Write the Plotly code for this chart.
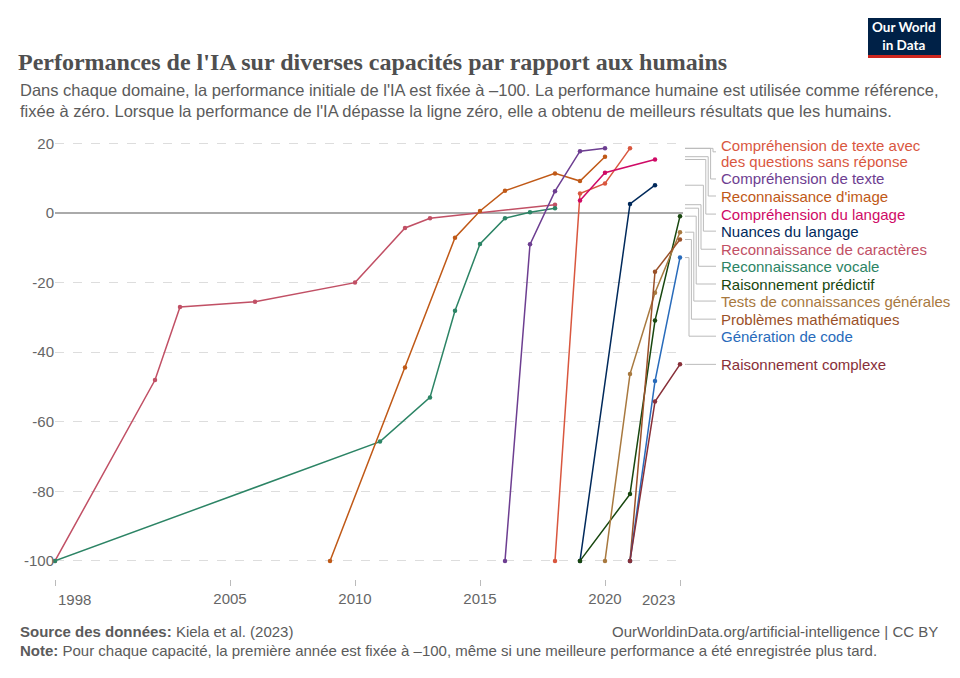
import plotly.graph_objects as go

# data (Kiela et al. 2023)
names = [
    "Compréhension de texte avec",
    "Compréhension de texte",
    "Reconnaissance d'image",
    "Compréhension du langage",
    "Nuances du langage",
    "Reconnaissance de caractères",
    "Reconnaissance vocale",
    "Raisonnement prédictif",
    "Tests de connaissances générales",
    "Problèmes mathématiques",
    "Génération de code",
    "Raisonnement complexe",
]
colors = ["#D9573F", "#6D3E91", "#C05917", "#CF0A66", "#00295B", "#C15065",
          "#2C8465", "#18470F", "#A8793F", "#9A5129", "#286BBB", "#883039"]

years_squad2 = [2018, 2019, 2020, 2021]
vals_squad2 = [-100, 5.6, 8.5, 18.6]
years_texte = [2016, 2017, 2018, 2019, 2020]
vals_texte = [-100, -9, 6.3, 17.8, 18.6]
years_image = [2009, 2012, 2014, 2015, 2016, 2018, 2019, 2020]
vals_image = [-100, -44.4, -7.1, 0.6, 6.4, 11.4, 9.2, 16.2]
years_langage = [2019, 2020, 2022]
vals_langage = [3.6, 11.6, 15.4]
years_nuances = [2019, 2021, 2022]
vals_nuances = [-100, 2.6, 8.0]
years_caracteres = [1998, 2002, 2003, 2006, 2010, 2012, 2013, 2018]
vals_caracteres = [-100, -48, -27, -25.5, -20, -4.3, -1.5, 2.4]
years_vocale = [1998, 2011, 2013, 2014, 2015, 2016, 2017, 2018]
vals_vocale = [-100, -65.7, -53, -28.1, -8.9, -1.5, 0.2, 1.4]
years_predictif = [2019, 2021, 2022, 2023]
vals_predictif = [-100, -80.8, -30.9, -0.9]
years_tests = [2020, 2021, 2022, 2023]
vals_tests = [-100, -46.3, -22.9, -5.5]
years_maths = [2021, 2022, 2023]
vals_maths = [-100, -16.9, -7.6]
years_code = [2021, 2022, 2023]
vals_code = [-100, -48.3, -12.8]
years_complexe = [2021, 2022, 2023]
vals_complexe = [-100, -54.2, -43.5]

all_years = [years_squad2, years_texte, years_image, years_langage, years_nuances,
             years_caracteres, years_vocale, years_predictif, years_tests,
             years_maths, years_code, years_complexe]
all_vals = [vals_squad2, vals_texte, vals_image, vals_langage, vals_nuances,
            vals_caracteres, vals_vocale, vals_predictif, vals_tests,
            vals_maths, vals_code, vals_complexe]

# where the right-hand labels sit (in y units)
label_pos = [19.3, 9.8, 4.9, -0.3, -5.2, -10.4, -15.3, -20.4, -25.3, -30.5, -35.4, -43.5]
joint_pos = [17.6, 9.8, 4.9, -0.3, -5.2, -10.4, -15.3, -20.4, -25.3, -30.5, -35.4, -43.5]

x_ticks = [1998, 2005, 2010, 2015, 2020, 2023]
y_ticks = [-100, -80, -60, -40, -20, 0, 20]

# the page body adds an 8px margin, so lay out in screen pixels minus that
OFF = 8
W, H = 960 - OFF, 678 - OFF
L, R, T, B = 55, 683, 140, 579


def px(x):
    return (x - L) / (R - L)


def py(y):
    return (B - y) / (B - T)


fig = go.Figure()

# draw back-to-front so the older series sit underneath
order = [5, 6, 2, 1, 0, 3, 4, 7, 8, 9, 10, 11]
for i in order:
    fig.add_trace(go.Scatter(
        x=all_years[i], y=all_vals[i], mode="lines+markers",
        line=dict(color=colors[i], width=1.5),
        marker=dict(color=colors[i], size=4.5),
        name=names[i], showlegend=False, cliponaxis=False,
    ))

shapes = []
annotations = []
lab_font = "Liberation Sans"
for i, name in enumerate(names):
    end_v = all_vals[i][-1]
    xe = px(713 - 2.4 * i)
    shapes.append(dict(
        type="path", xref="paper", yref="y",
        path=f"M {px(685)},{end_v} L {xe},{end_v} L {xe},{joint_pos[i]} L {px(716)},{joint_pos[i]}",
        line=dict(color="#bbbbbb", width=1),
    ))
    annotations.append(dict(
        xref="paper", yref="y", x=px(719), y=label_pos[i], text=name,
        xanchor="left", yanchor="middle", align="left", showarrow=False,
        font=dict(family=lab_font, size=15, color=colors[i]),
    ))
annotations.append(dict(
    xref="paper", yref="y", x=px(719), y=label_pos[0] - 4.35, text="des questions sans réponse",
    xanchor="left", yanchor="middle", align="left", showarrow=False,
    font=dict(family=lab_font, size=15, color=colors[0]),
))

# first and last year labels hug their ticks like in the original
for yr, anchor in [(x_ticks[0], "left"), (x_ticks[-1], "right")]:
    annotations.append(dict(
        xref="x", yref="paper", x=yr, y=py(599.5), text=str(yr), showarrow=False,
        xanchor=anchor, yanchor="middle", xshift=-3 if anchor == "right" else 1,
        font=dict(family="Liberation Sans", size=15, color="#666666"),
    ))

# logo
shapes.append(dict(type="rect", xref="paper", yref="paper", x0=px(868), x1=px(941),
                   y0=py(58), y1=py(18), fillcolor="#002147", line=dict(width=0), layer="above"))
shapes.append(dict(type="rect", xref="paper", yref="paper", x0=px(868), x1=px(941),
                   y0=py(58), y1=py(55), fillcolor="#CE261E", line=dict(width=0), layer="above"))
annotations.append(dict(xref="paper", yref="paper", x=px(904.5), y=py(36.5),
                        text="<b>Our World<br>in Data</b>", showarrow=False,
                        xanchor="center", yanchor="middle",
                        font=dict(family="Lato", size=13.5, color="white")))

annotations.append(dict(
    xref="paper", yref="paper", x=px(18), y=py(100), xanchor="left", yanchor="middle",
    align="left", showarrow=False,
    text="Dans chaque domaine, la performance initiale de l'IA est fixée à –100. La performance humaine est utilisée comme référence,<br>"
         "fixée à zéro. Lorsque la performance de l'IA dépasse la ligne zéro, elle a obtenu de meilleurs résultats que les humains.",
    font=dict(family="Liberation Sans", size=16.5, color="#5b5b5b"),
))
annotations.append(dict(
    xref="paper", yref="paper", x=px(18), y=py(631), xanchor="left", yanchor="middle",
    showarrow=False, text="<b>Source des données:</b> Kiela et al. (2023)",
    font=dict(family="Liberation Sans", size=15, color="#5b5b5b"),
))
annotations.append(dict(
    xref="paper", yref="paper", x=px(940), y=py(631), xanchor="right", yanchor="middle",
    showarrow=False, text="OurWorldinData.org/artificial-intelligence | CC BY",
    font=dict(family="Liberation Sans", size=15, color="#5b5b5b"),
))
annotations.append(dict(
    xref="paper", yref="paper", x=px(18), y=py(650), xanchor="left", yanchor="middle",
    showarrow=False,
    text="<b>Note:</b> Pour chaque capacité, la première année est fixée à –100, même si une meilleure performance a été enregistrée plus tard.",
    font=dict(family="Liberation Sans", size=15, color="#5b5b5b"),
))

fig.update_layout(
    width=W, height=H,
    margin=dict(l=L - OFF, r=960 - R, t=T - OFF, b=678 - B),
    plot_bgcolor="white", paper_bgcolor="white",
    title=dict(
        text="<b>Performances de l'IA sur diverses capacités par rapport aux humains</b>",
        xref="container", yref="container", x=(18 - OFF) / W, y=1 - (62 - OFF) / H,
        xanchor="left", yanchor="middle",
        font=dict(family="Liberation Serif", size=24, color="#4f4f4f"),
    ),
    xaxis=dict(
        range=[1998, 2023.12], tickvals=x_ticks,
        ticktext=[""] + [str(v) for v in x_ticks[1:-1]] + [""],
        showgrid=False, zeroline=False, showline=False,
        ticks="outside", ticklen=6, tickcolor="#bbbbbb",
        tickfont=dict(family="Liberation Sans", size=15, color="#666666"),
    ),
    yaxis=dict(
        range=[-105.2, 21], tickvals=y_ticks, ticktext=[str(v) for v in y_ticks],
        showgrid=True, gridcolor="#dddddd", griddash="dash", gridwidth=1,
        zeroline=True, zerolinecolor="#aaaaaa", zerolinewidth=1.5,
        showline=False, ticks="",
        tickfont=dict(family="Liberation Sans", size=15, color="#666666"),
    ),
    shapes=shapes,
    annotations=annotations,
)

fig.write_html("out.html")
